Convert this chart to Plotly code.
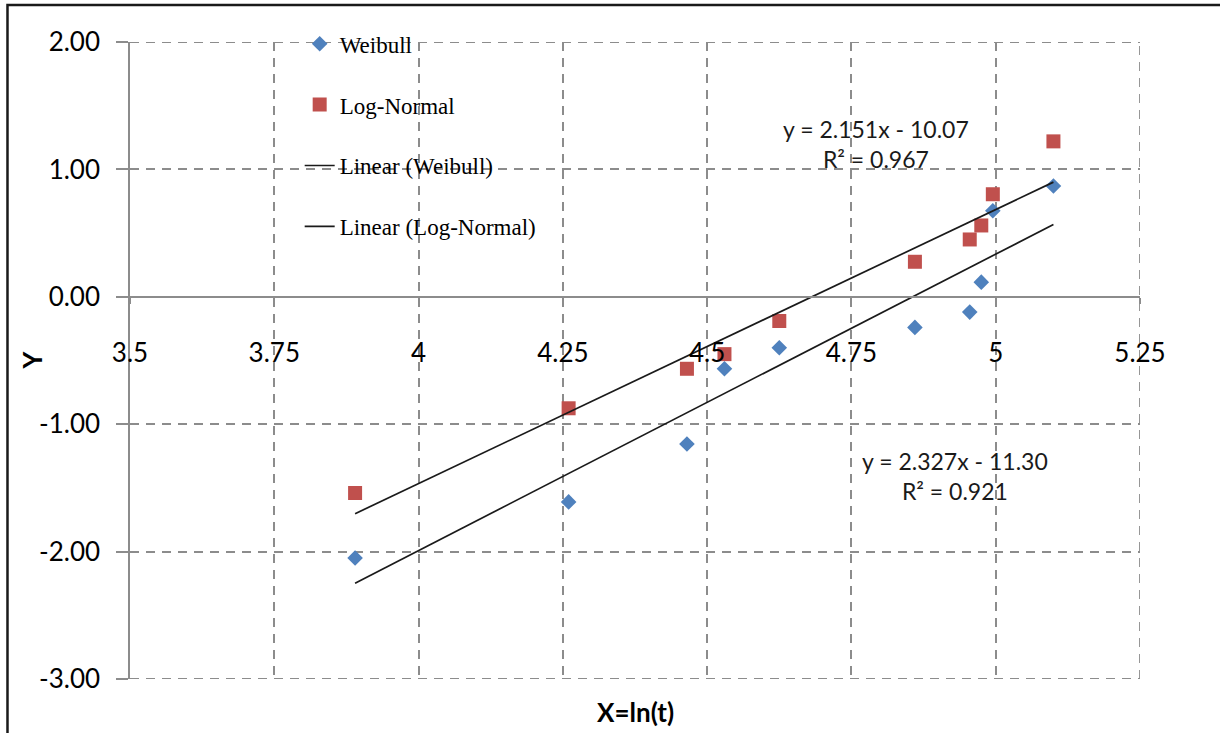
import plotly.graph_objects as go

# ln(t) of the failure times, shared by both probability plots
ln_t = [3.89, 4.26, 4.465, 4.53, 4.625, 4.86, 4.955, 4.975, 4.995, 5.10]

# Linearised plotting positions
weibull_y = [-2.05, -1.61, -1.155, -0.565, -0.40, -0.24, -0.12, 0.115, 0.675, 0.87]
lognormal_y = [-1.54, -0.875, -0.565, -0.45, -0.19, 0.275, 0.45, 0.56, 0.805, 1.22]

# Least-squares trendlines: slope, intercept, R^2
series_names = ["Weibull", "Log-Normal"]
fit_slope = [2.327, 2.151]
fit_intercept = [-11.30, -10.07]
fit_r2 = [0.921, 0.967]

x_ticks = [3.5, 3.75, 4.0, 4.25, 4.5, 4.75, 5.0, 5.25]
x_tick_text = ["3.5", "3.75", "4", "4.25", "4.5", "4.75", "5", "5.25"]
y_ticks = [-3, -2, -1, 0, 1, 2]
y_tick_text = ["-3.00", "-2.00", "-1.00", "0.00", "1.00", "2.00"]

GRID = "#8c8c8c"
DASH = "9px,7px"
SANS = "Lato, 'Open Sans', sans-serif"
SERIF = "'Liberation Serif', 'Times New Roman', serif"

fig = go.Figure()

fig.add_trace(go.Scatter(
    x=ln_t, y=weibull_y, mode="markers", name="Weibull", legendgroup="a",
    marker=dict(symbol="diamond", size=12, color="#4F81BD"),
))
fig.add_trace(go.Scatter(
    x=ln_t, y=lognormal_y, mode="markers", name="Log-Normal", legendgroup="b",
    marker=dict(symbol="square", size=14, color="#C0504D"),
))

# Trendlines evaluated over the data span
x_lo, x_hi = min(ln_t), max(ln_t)
for i, nm in enumerate(series_names):
    fig.add_trace(go.Scatter(
        x=[x_lo, x_hi],
        y=[fit_slope[i] * x_lo + fit_intercept[i], fit_slope[i] * x_hi + fit_intercept[i]],
        mode="lines", name=f"Linear ({nm})", legendgroup=f"l{i}",
        line=dict(color="#1a1a1a", width=1.7),
    ))

# Trendline equation labels
label_pos = [(4.93, -1.41), (4.793, 1.20)]
for i in range(2):
    fig.add_annotation(
        x=label_pos[i][0], y=label_pos[i][1], xref="x", yref="y",
        text=f"y = {fit_slope[i]:.3f}x - {abs(fit_intercept[i]):.2f}<br>R² = {fit_r2[i]:.3f}",
        showarrow=False, align="center",
        font=dict(family=SANS, size=23, color="#1a1a1a"),
    )

# Dashed gridlines on the plot edges (top, bottom, right)
for yv in (max(y_ticks), min(y_ticks)):
    fig.add_shape(type="line", xref="x", yref="y", x0=x_ticks[0], x1=x_ticks[-1], y0=yv, y1=yv,
                  line=dict(color=GRID, width=1.8, dash=DASH), layer="below")
fig.add_shape(type="line", xref="x", yref="y", x0=x_ticks[-1], x1=x_ticks[-1],
              y0=min(y_ticks), y1=max(y_ticks),
              line=dict(color=GRID, width=1.8, dash=DASH), layer="below")

# Axis titles
fig.add_annotation(x=0.5, y=-0.052, xref="paper", yref="paper", text="<b>X=ln(t)</b>",
                   showarrow=False, yanchor="middle",
                   font=dict(family=SANS, size=26, color="#000"))
fig.add_annotation(x=-0.098, y=0.5, xref="paper", yref="paper", text="<b>Y</b>",
                   showarrow=False, textangle=-90, xanchor="center",
                   font=dict(family=SANS, size=26, color="#000"))

# Chart frame
fig.add_shape(type="rect", xref="paper", yref="paper",
              x0=-0.1213, x1=1.3, y0=-0.3, y1=1.058,
              line=dict(color="#1a1a1a", width=2.5), fillcolor="rgba(0,0,0,0)")

fig.update_layout(
    width=1220, height=733,
    margin=dict(l=130, r=80, t=42, b=54),
    paper_bgcolor="white", plot_bgcolor="white",
    showlegend=True,
    legend=dict(
        x=0.168, y=1.031, xanchor="left", yanchor="top",
        bgcolor="rgba(0,0,0,0)", tracegroupgap=28,
        font=dict(family=SERIF, size=23, color="#000"),
    ),
    xaxis=dict(
        range=[3.5, 5.25], tickvals=x_ticks, ticktext=x_tick_text,
        anchor="free", position=0.6,
        showline=True, linecolor=GRID, linewidth=1.5,
        ticks="outside", ticklen=6, tickcolor=GRID, tickwidth=1.5,
        ticklabelstandoff=27,
        showgrid=True, gridcolor=GRID, gridwidth=1.8, griddash=DASH,
        zeroline=False,
        tickfont=dict(family=SANS, size=26, color="#000"),
    ),
    yaxis=dict(
        range=[-3, 2], tickvals=y_ticks, ticktext=y_tick_text,
        showline=True, linecolor=GRID, linewidth=1.5,
        ticks="outside", ticklen=12, tickcolor=GRID, tickwidth=1.5,
        ticklabelstandoff=11,
        showgrid=True, gridcolor=GRID, gridwidth=1.8, griddash=DASH,
        zeroline=True, zerolinecolor=GRID, zerolinewidth=1.8,
        tickfont=dict(family=SANS, size=26, color="#000"),
    ),
)

fig.write_html("out.html")
